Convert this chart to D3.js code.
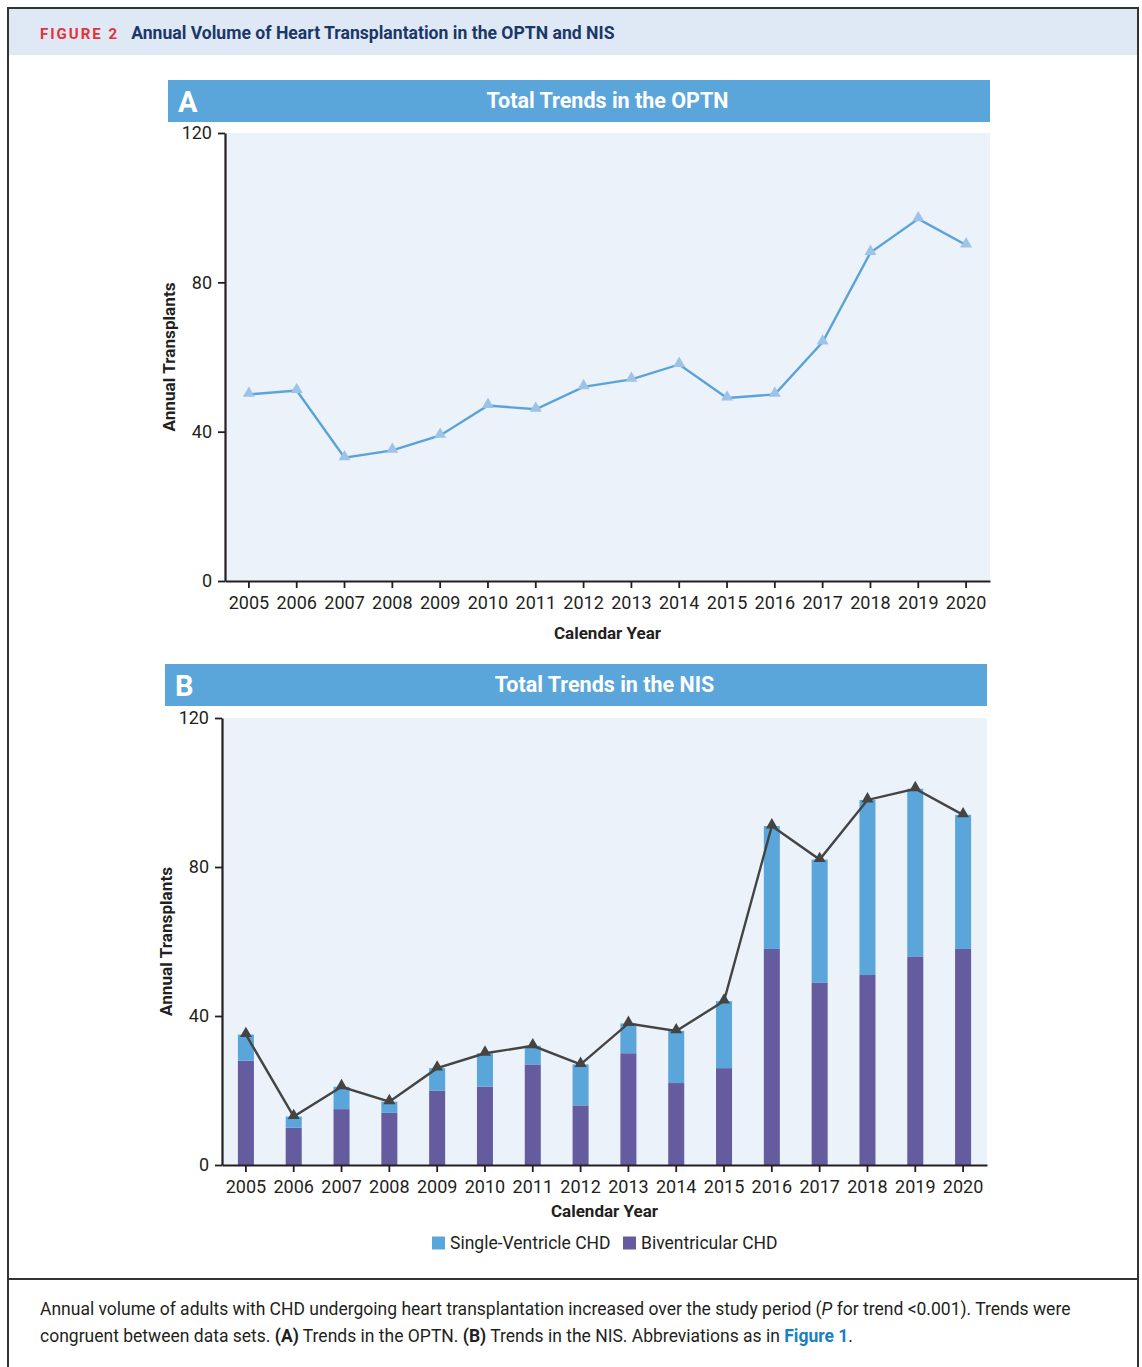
<!DOCTYPE html>
<html>
<head>
<meta charset="utf-8">
<script src="https://cdn.jsdelivr.net/npm/d3@7"></script>
<style>
  html, body { margin: 0; padding: 0; background: #fff; }
  svg { display: block; }
  text { font-family: Roboto, "Open Sans", sans-serif; }
</style>
</head>
<body>
<svg id="fig" width="1142" height="1367"></svg>
<script>
// Calendar years shared by both panels
const years = [2005, 2006, 2007, 2008, 2009, 2010, 2011, 2012, 2013, 2014, 2015, 2016, 2017, 2018, 2019, 2020];

// Panel A: OPTN annual transplant totals
const optnTotals = [50, 51, 33, 35, 39, 47, 46, 52, 54, 58, 49, 50, 64, 88, 97, 90];

// Panel B: NIS annual transplants split by anatomy
const nisBiventricular = [28, 10, 15, 14, 20, 21, 27, 16, 30, 22, 26, 58, 49, 51, 56, 58];
const nisSingleVentricle = [7, 3, 6, 3, 6, 9, 5, 11, 8, 14, 18, 33, 33, 47, 45, 36];

const yTicks = [0, 40, 80, 120];
const seriesNames = ["Single-Ventricle CHD", "Biventricular CHD"];

const COLORS = {
  band: "#5aa6da",
  plotBg: "#ebf2fa",
  single: "#5aa6da",
  biv: "#655c9f",
  lineA: "#5aa3d8",
  markerA: "#9dc3e8",
  lineB: "#444444",
  axis: "#231f20",
  red: "#e4303a",
  navy: "#1b3768",
  headerBg: "#dfe9f5",
  frame: "#333"
};

const svg = d3.select("#fig");

// ---- Figure frame and header ----
svg.append("rect").attr("x", 8).attr("y", 9).attr("width", 1130).attr("height", 46).attr("fill", COLORS.headerBg);
svg.append("line").attr("x1", 7).attr("x2", 1139).attr("y1", 8).attr("y2", 8).attr("stroke", COLORS.frame).attr("stroke-width", 2);
svg.append("line").attr("x1", 8).attr("x2", 8).attr("y1", 7).attr("y2", 1367).attr("stroke", COLORS.frame).attr("stroke-width", 2);
svg.append("line").attr("x1", 1138).attr("x2", 1138).attr("y1", 7).attr("y2", 1367).attr("stroke", COLORS.frame).attr("stroke-width", 2);
svg.append("line").attr("x1", 7).attr("x2", 1139).attr("y1", 1279).attr("y2", 1279).attr("stroke", COLORS.frame).attr("stroke-width", 2);

const head = svg.append("text").attr("x", 40).attr("y", 39);
head.append("tspan").text("FIGURE 2").attr("fill", COLORS.red).attr("font-weight", 700).attr("font-size", 15).attr("letter-spacing", 2);
head.append("tspan").text("Annual Volume of Heart Transplantation in the OPTN and NIS").attr("dx", 12).attr("fill", COLORS.navy).attr("font-weight", 700).attr("font-size", 17.6);

// ---- Shared panel builder ----
function panel(cfg) {
  const g = svg.append("g");
  const x = d3.scaleBand().domain(years).range([cfg.left, cfg.right]).paddingInner(0.665).paddingOuter(0.3325);
  const y = d3.scaleLinear().domain([0, 120]).range([cfg.bottom, cfg.top]);

  // title band
  g.append("rect").attr("x", cfg.bandLeft).attr("y", cfg.bandTop).attr("width", cfg.right - cfg.bandLeft).attr("height", 42).attr("fill", COLORS.band);
  g.append("text").attr("x", cfg.bandLeft + 10).attr("y", cfg.bandTop + 32).attr("fill", "#fff").attr("font-weight", 700).attr("font-size", 29).text(cfg.letter);
  g.append("text").attr("x", (cfg.left + cfg.right) / 2).attr("y", cfg.bandTop + 28).attr("text-anchor", "middle").attr("fill", "#fff").attr("font-weight", 700).attr("font-size", 21.5).text(cfg.title);

  // plot background
  g.append("rect").attr("x", cfg.left).attr("y", cfg.top).attr("width", cfg.right - cfg.left).attr("height", cfg.bottom - cfg.top).attr("fill", COLORS.plotBg);

  return { g, x, y };
}

function axes(p, cfg) {
  const { g, x, y } = p;
  const yAxis = g.append("g").attr("transform", `translate(${cfg.left},0)`)
    .call(d3.axisLeft(y).tickValues(yTicks).tickSize(7).tickSizeOuter(0).tickPadding(6));
  const xAxis = g.append("g").attr("transform", `translate(0,${cfg.bottom})`)
    .call(d3.axisBottom(x).tickSize(7).tickSizeOuter(0).tickPadding(6));
  [yAxis, xAxis].forEach(a => {
    a.select(".domain").attr("stroke", COLORS.axis).attr("stroke-width", 2.2);
    a.selectAll(".tick line").attr("stroke", COLORS.axis).attr("stroke-width", 1.8);
    a.selectAll(".tick text").attr("fill", "#231f20").attr("font-size", 18).attr("font-family", "Roboto, sans-serif");
  });
  xAxis.selectAll(".tick text").attr("dy", "0.85em");

  g.append("text")
    .attr("transform", `translate(${cfg.left - 50},${(cfg.top + cfg.bottom) / 2}) rotate(-90)`)
    .attr("text-anchor", "middle").attr("font-weight", 700).attr("font-size", 17.2).attr("fill", "#231f20")
    .text("Annual Transplants");
  g.append("text")
    .attr("x", (cfg.left + cfg.right) / 2).attr("y", cfg.bottom + cfg.xTitleGap)
    .attr("text-anchor", "middle").attr("font-weight", 700).attr("font-size", 17).attr("fill", "#231f20")
    .text("Calendar Year");
}

const tri = d3.symbol().type(d3.symbolTriangle).size(62);

// ---- Panel A: OPTN line ----
const cfgA = { left: 225, right: 990, top: 133, bottom: 581, bandLeft: 168, bandTop: 80, letter: "A", title: "Total Trends in the OPTN", xTitleGap: 58 };
const pA = panel(cfgA);
const cxA = d => pA.x(d) + pA.x.bandwidth() / 2;
pA.g.append("path")
  .datum(years.map((yr, i) => [yr, optnTotals[i]]))
  .attr("fill", "none").attr("stroke", COLORS.lineA).attr("stroke-width", 2.4)
  .attr("d", d3.line().x(d => cxA(d[0])).y(d => pA.y(d[1])));
pA.g.selectAll(".mA").data(years).join("path")
  .attr("d", tri)
  .attr("transform", (d, i) => `translate(${cxA(d)},${pA.y(optnTotals[i]) - 1})`)
  .attr("fill", COLORS.markerA);
axes(pA, cfgA);

// ---- Panel B: NIS stacked bars with total line ----
const cfgB = { left: 222, right: 987, top: 718, bottom: 1165, bandLeft: 165, bandTop: 664, letter: "B", title: "Total Trends in the NIS", xTitleGap: 52 };
const pB = panel(cfgB);
const rows = years.map((yr, i) => ({ year: yr, biv: nisBiventricular[i], single: nisSingleVentricle[i] }));
const stack = d3.stack().keys(["biv", "single"])(rows);
const fillFor = { biv: COLORS.biv, single: COLORS.single };
pB.g.selectAll(".layer").data(stack).join("g")
  .attr("fill", d => fillFor[d.key])
  .selectAll("rect").data(d => d).join("rect")
  .attr("x", d => pB.x(d.data.year))
  .attr("width", pB.x.bandwidth())
  .attr("y", d => pB.y(d[1]))
  .attr("height", d => pB.y(d[0]) - pB.y(d[1]));

const cxB = d => pB.x(d) + pB.x.bandwidth() / 2;
const totals = rows.map(r => r.biv + r.single);
pB.g.append("path")
  .datum(years.map((yr, i) => [yr, totals[i]]))
  .attr("fill", "none").attr("stroke", COLORS.lineB).attr("stroke-width", 2.4)
  .attr("d", d3.line().x(d => cxB(d[0])).y(d => pB.y(d[1])));
pB.g.selectAll(".mB").data(years).join("path")
  .attr("d", tri)
  .attr("transform", (d, i) => `translate(${cxB(d)},${pB.y(totals[i]) - 1})`)
  .attr("fill", COLORS.lineB);
axes(pB, cfgB);

// ---- Legend ----
const legend = svg.append("g").attr("transform", "translate(432,1243)");
const legendItems = [
  { name: seriesNames[0], color: COLORS.single, x: 0 },
  { name: seriesNames[1], color: COLORS.biv, x: 191 }
];
legendItems.forEach(it => {
  legend.append("rect").attr("x", it.x).attr("y", -6.5).attr("width", 13).attr("height", 13).attr("fill", it.color);
  legend.append("text").attr("x", it.x + 18).attr("y", 6).attr("font-size", 17.5).attr("fill", "#231f20").text(it.name);
});

// ---- Caption ----
const capSize = 17.5;
const cap1 = svg.append("text").attr("x", 40).attr("y", 1315).attr("font-size", capSize).attr("fill", "#231f20");
cap1.append("tspan").text("Annual volume of adults with CHD undergoing heart transplantation increased over the study period (");
cap1.append("tspan").text("P").attr("font-style", "italic");
cap1.append("tspan").text(" for trend <0.001). Trends were");

const cap2 = svg.append("text").attr("x", 40).attr("y", 1342).attr("font-size", capSize).attr("fill", "#231f20");
cap2.append("tspan").text("congruent between data sets. ");
cap2.append("tspan").text("(A)").attr("font-weight", 700);
cap2.append("tspan").text(" Trends in the OPTN. ");
cap2.append("tspan").text("(B)").attr("font-weight", 700);
cap2.append("tspan").text(" Trends in the NIS. Abbreviations as in ");
cap2.append("tspan").text("Figure 1").attr("font-weight", 700).attr("fill", "#1a80c4");
cap2.append("tspan").text(".");
</script>
</body>
</html>
